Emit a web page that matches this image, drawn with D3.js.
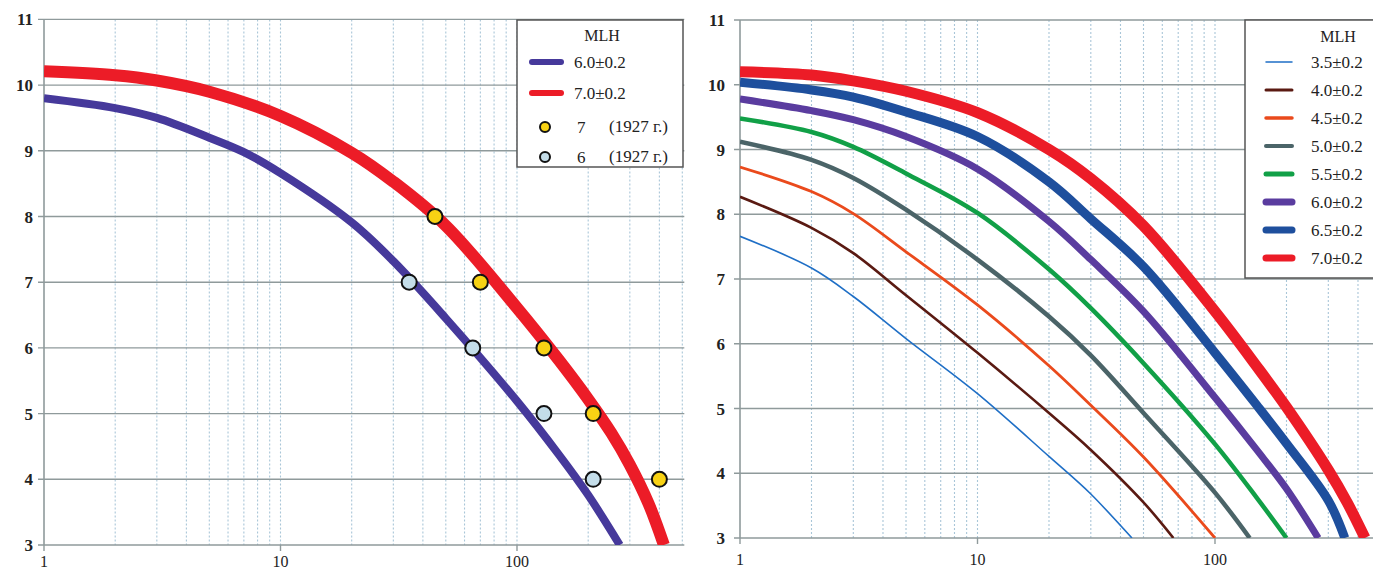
<!DOCTYPE html>
<html lang="en">
<head>
<meta charset="UTF-8" />
<title>MLH curves</title>
<script src="https://cdn.jsdelivr.net/npm/d3@7"></script>
<style>
  body { margin: 0; background: #fff; }
  svg text { font-family: "Liberation Serif", "DejaVu Serif", serif; fill: #222; }
</style>
</head>
<body>
<div id="chart"></div>
<script>
// tick values
var yTicks = [3, 4, 5, 6, 7, 8, 9, 10, 11];
var xTicks = [1, 10, 100];
var xMinor = [2, 3, 4, 5, 6, 7, 8, 9, 10, 20, 30, 40, 50, 60, 70, 80, 90, 100, 200, 300, 400, 500];

// left panel: curves for MLH 6.0 and 7.0, [x, y]
var left60 = [[1, 9.80], [2, 9.65], [3, 9.50], [5, 9.20], [7, 8.98], [10, 8.66], [20, 7.91], [30, 7.32],
  [50, 6.45], [100, 5.19], [150, 4.38], [200, 3.76], [272, 3.0]];
var left70 = [[1, 10.21], [2, 10.15], [3, 10.07], [5, 9.90], [10, 9.53], [20, 8.97], [30, 8.53], [50, 7.86],
  [100, 6.61], [150, 5.82], [200, 5.22], [250, 4.71], [300, 4.22], [360, 3.63], [418, 3.0]];

// 1927 points
var pts7 = [[45, 8], [70, 7], [130, 6], [210, 5], [400, 4]];
var pts6 = [[35, 7], [65, 6], [130, 5], [210, 4]];

// right panel curves
var r35 = [[1, 7.66], [2, 7.17], [3, 6.73], [5, 6.08], [10, 5.23], [20, 4.26], [30, 3.68], [44.7, 3.0]];
var r40 = [[1, 8.27], [2, 7.79], [3, 7.40], [5, 6.75], [10, 5.86], [20, 4.93], [30, 4.36], [50, 3.55], [66.8, 3.0]];
var r45 = [[1, 8.73], [2, 8.35], [3, 8.01], [5, 7.42], [10, 6.60], [20, 5.66], [30, 5.05], [50, 4.25], [100, 3.0]];
var r50 = [[1, 9.12], [2, 8.84], [3, 8.56], [5, 8.07], [10, 7.30], [20, 6.42], [30, 5.82], [50, 4.93], [100, 3.70], [140, 3.0]];
var r55 = [[1, 9.48], [2, 9.27], [3, 9.04], [5, 8.63], [10, 8.02], [20, 7.15], [30, 6.55], [50, 5.70], [100, 4.45], [150, 3.62], [200, 3.0]];
var r60 = [[1, 9.78], [2, 9.60], [3, 9.46], [5, 9.20], [10, 8.70], [20, 7.89], [30, 7.30], [50, 6.50], [100, 5.17], [150, 4.36], [200, 3.76], [272, 3.0]];
var r65 = [[1, 10.04], [2, 9.92], [3, 9.81], [5, 9.58], [10, 9.20], [20, 8.50], [30, 7.93], [50, 7.19], [100, 5.86], [150, 5.05], [200, 4.46], [300, 3.58], [352, 3.0]];
var r70 = [[1, 10.20], [2, 10.15], [3, 10.06], [5, 9.90], [10, 9.57], [20, 9.0], [30, 8.55], [50, 7.82], [100, 6.50], [150, 5.65], [200, 5.02], [300, 4.05], [360, 3.55], [428, 3.0]];

var leftNames = ["6.0±0.2", "7.0±0.2"];
var rightNames = ["3.5±0.2", "4.0±0.2", "4.5±0.2", "5.0±0.2", "5.5±0.2", "6.0±0.2", "6.5±0.2", "7.0±0.2"];

var w = 1373, h = 572;

var svg = d3.select("#chart").append("svg")
  .attr("width", w)
  .attr("height", h);

svg.append("rect").attr("width", w).attr("height", h).attr("fill", "#fff");

// draws grid + axes for one panel, returns scales
function panel(id, x0, x1, y0, y1, labelX, xLabelY) {
  var xScale = d3.scaleLog().domain([1, 500]).range([x0, x1]);
  var yScale = d3.scaleLinear().domain([3, 11]).range([y0, y1]);
  var g = svg.append("g").attr("class", id);

  svg.append("clipPath").attr("id", "clip-" + id)
    .append("rect").attr("x", x0).attr("y", y1 - 6).attr("width", x1 - x0).attr("height", y0 - y1 + 6);

  // dotted verticals
  g.selectAll("line.vg").data(xMinor).enter().append("line")
    .attr("class", "vg")
    .attr("x1", function(d) { return xScale(d); })
    .attr("x2", function(d) { return xScale(d); })
    .attr("y1", y1).attr("y2", y0)
    .attr("stroke", "#a9c6d8")
    .attr("stroke-width", 1.1)
    .attr("stroke-dasharray", "2,2");

  // horizontal grid
  g.selectAll("line.hg").data(yTicks).enter().append("line")
    .attr("class", "hg")
    .attr("x1", x0 - 6).attr("x2", x1 + 2)
    .attr("y1", function(d) { return yScale(d); })
    .attr("y2", function(d) { return yScale(d); })
    .attr("stroke", "#8f9a9b")
    .attr("stroke-width", 1.4);

  // y axis line
  g.append("line").attr("x1", x0).attr("x2", x0).attr("y1", y1).attr("y2", y0)
    .attr("stroke", "#8f9a9b").attr("stroke-width", 1.6);

  g.selectAll("text.yl").data(yTicks).enter().append("text")
    .attr("class", "yl")
    .attr("x", labelX)
    .attr("y", function(d) { return yScale(d) + 6; })
    .attr("text-anchor", "end")
    .style("font-size", "17px")
    .style("font-weight", "bold")
    .text(function(d) { return d; });

  // x ticks
  g.selectAll("line.xt").data(xTicks).enter().append("line")
    .attr("x1", function(d) { return xScale(d); })
    .attr("x2", function(d) { return xScale(d); })
    .attr("y1", y0).attr("y2", y0 + 6)
    .attr("stroke", "#8f9a9b").attr("stroke-width", 1.4);

  g.selectAll("text.xl").data(xTicks).enter().append("text")
    .attr("class", "xl")
    .attr("x", function(d) { return xScale(d); })
    .attr("y", xLabelY)
    .attr("text-anchor", "middle")
    .style("font-size", "16px")
    .text(function(d) { return d; });

  return { x: xScale, y: yScale, clip: "url(#clip-" + id + ")" };
}

function drawLine(p, data, color, width) {
  var line = d3.line()
    .x(function(d) { return p.x(d[0]); })
    .y(function(d) { return p.y(d[1]); })
    .curve(d3.curveCatmullRom.alpha(0.5));
  svg.append("path")
    .datum(data)
    .attr("d", line)
    .attr("fill", "none")
    .attr("stroke", color)
    .attr("stroke-width", width)
    .attr("stroke-linejoin", "round")
    .attr("clip-path", p.clip);
}

//---- left panel
var L = panel("left", 44, 682.3, 545, 19.4, 33, 567);
drawLine(L, left60, "#46399b", 8);
drawLine(L, left70, "#ec1c27", 12);

svg.selectAll("circle.p6").data(pts6).enter().append("circle")
  .attr("class", "p6")
  .attr("cx", function(d) { return L.x(d[0]); })
  .attr("cy", function(d) { return L.y(d[1]); })
  .attr("r", 7.5)
  .attr("fill", "#c4dde9")
  .attr("stroke", "#111")
  .attr("stroke-width", 2);

svg.selectAll("circle.p7").data(pts7).enter().append("circle")
  .attr("class", "p7")
  .attr("cx", function(d) { return L.x(d[0]); })
  .attr("cy", function(d) { return L.y(d[1]); })
  .attr("r", 7.5)
  .attr("fill", "#f8d214")
  .attr("stroke", "#111")
  .attr("stroke-width", 2);

// left legend
var lg = svg.append("g");
lg.append("rect").attr("x", 517).attr("y", 20).attr("width", 166).attr("height", 147)
  .attr("fill", "#fff").attr("stroke", "#555").attr("stroke-width", 1.5);
lg.append("text").attr("x", 602).attr("y", 41).attr("text-anchor", "middle")
  .style("font-size", "16px").text("MLH");
var leftCols = ["#46399b", "#ec1c27"];
leftNames.forEach(function(n, i) {
  var yy = 62 + i * 31;
  lg.append("line").attr("x1", 532).attr("x2", 561).attr("y1", yy).attr("y2", yy)
    .attr("stroke", leftCols[i]).attr("stroke-width", 6).attr("stroke-linecap", "round");
  lg.append("text").attr("x", 574).attr("y", yy + 6).style("font-size", "17px").text(n);
});
var dotRows = [["#f8d214", "7", 127], ["#c4dde9", "6", 157]];
dotRows.forEach(function(r) {
  lg.append("circle").attr("cx", 545).attr("cy", r[2]).attr("r", 5)
    .attr("fill", r[0]).attr("stroke", "#111").attr("stroke-width", 2);
  lg.append("text").attr("x", 577).attr("y", r[2] + 6).style("font-size", "17px").text(r[1]);
  lg.append("text").attr("x", 609).attr("y", r[2] + 5).style("font-size", "17px").text("(1927 г.)");
});

//---- right panel
var R = panel("right", 740, 1381, 538, 20, 725, 565);
var rightData = [r35, r40, r45, r50, r55, r60, r65, r70];
var rightCols = ["#1f6fc6", "#5a1a12", "#ea4a1c", "#4b6468", "#11a047", "#5a3c9f", "#1e4f9d", "#ec1c27"];
var rightW = [1.6, 2.6, 2.8, 4.5, 4.5, 7, 9, 11];
rightData.forEach(function(d, i) {
  drawLine(R, d, rightCols[i], rightW[i]);
});

var rg = svg.append("g");
rg.append("rect").attr("x", 1245).attr("y", 20).attr("width", 140).attr("height", 258)
  .attr("fill", "#fff").attr("stroke", "#555").attr("stroke-width", 1.5);
rg.append("text").attr("x", 1338).attr("y", 42).attr("text-anchor", "middle")
  .style("font-size", "16px").text("MLH");
var legW = [1.5, 3, 3.5, 4, 5, 7, 7, 7];
rightNames.forEach(function(n, i) {
  var yy = 62 + i * 28;
  rg.append("line").attr("x1", 1266).attr("x2", 1292).attr("y1", yy).attr("y2", yy)
    .attr("stroke", rightCols[i]).attr("stroke-width", legW[i]).attr("stroke-linecap", "round");
  rg.append("text").attr("x", 1311).attr("y", yy + 6).style("font-size", "17px").text(n);
});
</script>
</body>
</html>
